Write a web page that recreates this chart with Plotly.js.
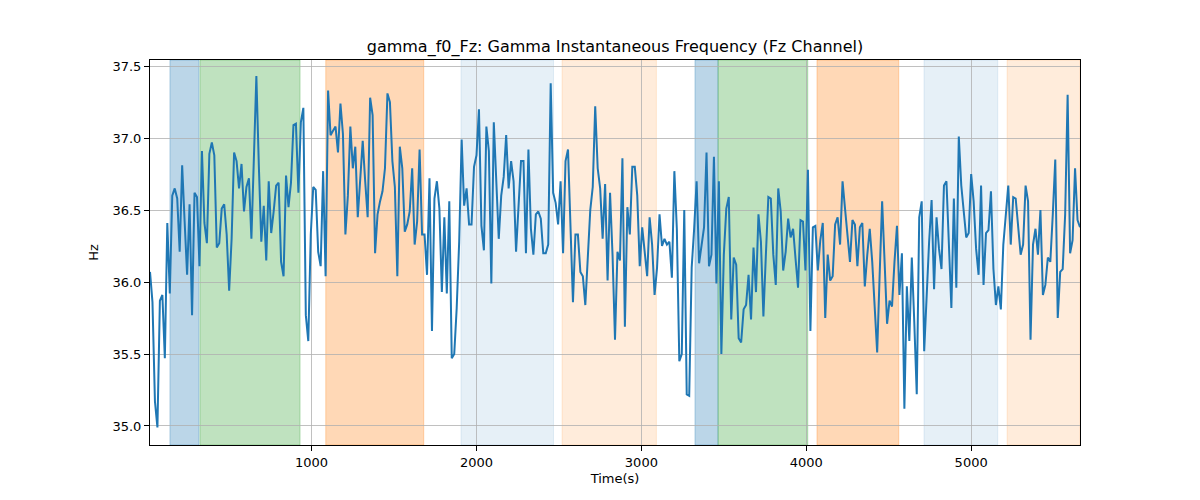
<!DOCTYPE html>
<html>
<head>
<meta charset="utf-8">
<script src="https://cdn.plot.ly/plotly-3.0.1.min.js"></script>
<style>
  html, body { margin: 0; padding: 0; background: #ffffff; }
  #gamma_graph { width: 1200px; height: 500px; }
</style>
</head>
<body>
<div id="gamma_graph"></div>
<script>
/* gamma instantaneous frequency of the Fz channel, with the stage bands behind it */

// sample times (s)
var timeSec = [
  20, 35, 50, 65, 80, 95, 110, 125, 140, 155,
  170, 185, 200, 215, 230, 245, 260, 275, 290, 305,
  320, 335, 350, 365, 380, 395, 410, 425, 440, 455,
  470, 485, 500, 515, 530, 545, 560, 575, 590, 605,
  620, 635, 650, 665, 680, 695, 710, 725, 740, 755,
  770, 785, 800, 815, 830, 845, 860, 875, 890, 905,
  920, 935, 950, 965, 980, 995, 1010, 1025, 1040, 1055,
  1070, 1085, 1100, 1115, 1130, 1145, 1160, 1175, 1190, 1205,
  1220, 1235, 1250, 1265, 1280, 1295, 1310, 1325, 1340, 1355,
  1370, 1385, 1400, 1415, 1430, 1445, 1460, 1475, 1490, 1505,
  1520, 1535, 1550, 1565, 1580, 1595, 1610, 1625, 1640, 1655,
  1670, 1685, 1700, 1715, 1730, 1745, 1760, 1775, 1790, 1805,
  1820, 1835, 1850, 1865, 1880, 1895, 1910, 1925, 1940, 1955,
  1970, 1985, 2000, 2015, 2030, 2045, 2060, 2075, 2090, 2105,
  2120, 2135, 2150, 2165, 2180, 2195, 2210, 2225, 2240, 2255,
  2270, 2285, 2300, 2315, 2330, 2345, 2360, 2375, 2390, 2405,
  2420, 2435, 2450, 2465, 2480, 2495, 2510, 2525, 2540, 2555,
  2570, 2585, 2600, 2615, 2630, 2645, 2660, 2675, 2690, 2705,
  2720, 2735, 2750, 2765, 2780, 2795, 2810, 2825, 2840, 2855,
  2870, 2885, 2900, 2915, 2930, 2945, 2960, 2975, 2990, 3005,
  3020, 3035, 3050, 3065, 3080, 3095, 3110, 3125, 3140, 3155,
  3170, 3185, 3200, 3215, 3230, 3245, 3260, 3275, 3290, 3305,
  3320, 3335, 3350, 3365, 3380, 3395, 3410, 3425, 3440, 3455,
  3470, 3485, 3500, 3515, 3530, 3545, 3560, 3575, 3590, 3605,
  3620, 3635, 3650, 3665, 3680, 3695, 3710, 3725, 3740, 3755,
  3770, 3785, 3800, 3815, 3830, 3845, 3860, 3875, 3890, 3905,
  3920, 3935, 3950, 3965, 3980, 3995, 4010, 4025, 4040, 4055,
  4070, 4085, 4100, 4115, 4130, 4145, 4160, 4175, 4190, 4205,
  4220, 4235, 4250, 4265, 4280, 4295, 4310, 4325, 4340, 4355,
  4370, 4385, 4400, 4415, 4430, 4445, 4460, 4475, 4490, 4505,
  4520, 4535, 4550, 4565, 4580, 4595, 4610, 4625, 4640, 4655,
  4670, 4685, 4700, 4715, 4730, 4745, 4760, 4775, 4790, 4805,
  4820, 4835, 4850, 4865, 4880, 4895, 4910, 4925, 4940, 4955,
  4970, 4985, 5000, 5015, 5030, 5045, 5060, 5075, 5090, 5105,
  5120, 5135, 5150, 5165, 5180, 5195, 5210, 5225, 5240, 5255,
  5270, 5285, 5300, 5315, 5330, 5345, 5360, 5375, 5390, 5405,
  5420, 5435, 5450, 5465, 5480, 5495, 5510, 5525, 5540, 5555,
  5570, 5585, 5600, 5615, 5630, 5645, 5660
];

// instantaneous frequency (Hz)
var freqHz = [
  36.07, 35.86, 35.17, 34.99, 35.87, 35.91, 35.47, 36.41, 35.92, 36.60,
  36.65, 36.58, 36.21, 36.81, 36.42, 36.05, 36.54, 35.77, 36.62, 36.59,
  36.11, 36.91, 36.41, 36.27, 36.89, 36.97, 36.88, 36.24, 36.27, 36.51,
  36.54, 36.33, 35.94, 36.30, 36.90, 36.84, 36.65, 36.82, 36.49, 36.66,
  36.72, 36.30, 36.86, 37.43, 36.81, 36.28, 36.53, 36.15,
  36.70, 36.34, 36.49, 36.67, 36.69, 36.14, 36.04, 36.74, 36.52, 36.69,
  37.09, 37.10, 36.62, 37.11, 37.21, 35.77, 35.59, 36.33, 36.66, 36.64,
  36.21, 36.11, 36.77, 36.04, 37.33, 37.02, 37.05, 37.08, 36.90, 37.24,
  37.03, 36.33, 36.60, 37.08, 36.79, 36.94, 36.45, 36.74, 36.98, 36.70,
  36.45, 37.28, 37.16, 36.20, 36.47, 36.56, 36.63, 36.79, 37.31, 37.25,
  36.84, 36.66, 36.04, 36.94, 36.79, 36.35, 36.40, 36.49, 36.79, 36.26,
  36.42, 36.92, 36.33, 36.33, 36.05, 36.72, 35.66, 36.58, 36.70, 36.51,
  35.93, 36.45, 35.92, 36.56, 35.47, 35.50, 35.82, 36.28, 36.99, 36.53,
  36.65, 36.40, 36.40, 36.80, 36.88, 37.20, 36.39, 36.22, 37.08, 36.91,
  35.99, 37.11, 36.65, 36.30, 36.60, 36.73, 37.02, 36.65,
  36.84, 36.70, 36.21, 36.49, 36.84, 36.84, 36.20, 36.92, 36.37, 36.19,
  36.47, 36.49, 36.44, 36.20, 36.20, 36.26, 37.38, 36.62, 36.55, 36.40,
  36.70, 36.20, 36.84, 36.92, 36.40, 35.86, 36.33, 36.33, 36.07, 36.04,
  35.84, 36.16, 36.50, 36.66, 37.22, 36.79, 36.65, 36.30, 36.68, 36.01,
  36.62, 36.19, 35.60, 36.21, 36.15, 36.86, 35.69, 36.52, 36.33,
  36.80, 36.80, 36.60, 36.11, 36.38, 36.22, 36.04, 36.45, 36.26, 35.91,
  36.10, 36.47, 36.25, 36.30, 36.26, 36.28, 36.03, 36.77, 36.37, 35.45,
  35.50, 36.50, 35.22, 35.21, 36.10, 36.37, 36.70, 36.13, 36.26, 36.38,
  36.90, 36.11, 36.19, 36.87, 35.99, 36.70, 35.50, 36.19, 36.51, 36.59,
  35.74, 36.17, 36.12, 35.61, 35.58, 35.81, 35.84, 36.05,
  35.74, 36.24, 35.93, 36.47, 36.28, 35.76, 36.19, 36.59, 36.58, 36.19,
  35.98, 36.65, 36.49, 36.08, 36.21, 36.44, 36.31, 36.37, 36.16, 35.96,
  36.43, 36.42, 36.08, 36.78, 35.66, 36.38, 36.39, 36.08, 36.29, 36.41,
  35.75, 36.19, 36.01, 36.04, 36.40, 36.45, 36.26, 36.70, 36.51, 36.30,
  36.14, 36.43, 36.40, 36.11, 36.38, 36.41, 35.97, 36.19, 36.37,
  36.14, 35.84, 35.51, 36.05, 36.56, 36.14, 35.71, 35.87, 35.83, 36.14,
  36.39, 35.91, 36.20, 35.12, 35.97, 35.59, 36.17, 35.72, 35.22, 36.45,
  36.56, 35.52, 35.96, 36.28, 36.57, 35.95, 36.45, 36.23, 36.09, 36.67,
  36.70, 36.19, 35.82, 36.58, 35.96, 37.01, 36.67, 36.49, 36.31, 36.34,
  36.75, 36.56, 36.23, 36.05, 36.67, 35.98, 36.34, 36.36,
  36.63, 36.09, 35.84, 35.97, 35.81, 36.26, 36.49, 36.67, 36.26, 36.59,
  36.58, 36.40, 36.19, 36.26, 36.67, 36.56, 35.60, 36.26, 36.37, 36.19,
  36.50, 35.91, 35.98, 36.17, 36.14, 36.47, 36.85, 35.75, 36.07, 36.09,
  36.47, 37.30, 36.20, 36.29, 36.79, 36.43, 36.38
];

// stage bands (s)
var bandStart = [141, 323, 1086, 1906, 2519, 3325, 3465, 4065, 4714, 5218];
var bandEnd   = [317, 930, 1680, 2467, 3091, 3465, 4009, 4561, 5161, 5660];
var bandKind  = ['blue', 'green', 'orange', 'paleblue', 'paleorange',
                 'blue', 'green', 'orange', 'paleblue', 'paleorange'];

var yTicks = [35.0, 35.5, 36.0, 36.5, 37.0, 37.5];
var xTicks = [1000, 2000, 3000, 4000, 5000];

var bandColour = {
  blue: 'rgba(31,119,180,0.3)',
  green: 'rgba(44,160,44,0.3)',
  orange: 'rgba(255,127,14,0.3)',
  paleblue: 'rgba(31,119,180,0.11)',
  paleorange: 'rgba(255,127,14,0.15)'
};

var shapes = [];
for (var k = 0; k < bandStart.length; k++) {
  shapes.push({
    type: 'rect', xref: 'x', yref: 'paper', layer: 'below',
    x0: bandStart[k], x1: bandEnd[k], y0: 0, y1: 1,
    fillcolor: bandColour[bandKind[k]],
    line: { color: bandColour[bandKind[k]], width: 1 }
  });
}

var freq_trace = {
  x: timeSec,
  y: freqHz,
  type: 'scatter',
  mode: 'lines',
  line: { color: '#1f77b4', width: 2 },
  hoverinfo: 'skip'
};

var layout = {
  width: 1200,
  height: 500,
  margin: { l: 150, r: 120, t: 60, b: 55 },
  paper_bgcolor: '#ffffff',
  plot_bgcolor: '#ffffff',
  showlegend: false,
  font: { family: 'DejaVu Sans, sans-serif', size: 13, color: '#000000' },
  title: {
    text: 'gamma_f0_Fz: Gamma Instantaneous Frequency (Fz Channel)',
    font: { family: 'DejaVu Sans, sans-serif', size: 16, color: '#000000' },
    x: 0.5, xref: 'paper', xanchor: 'center',
    y: 0.908, yref: 'container', yanchor: 'middle'
  },
  xaxis: {
    range: [20, 5660],
    tickvals: xTicks,
    ticktext: xTicks.map(String),
    ticks: 'outside', ticklen: 5, tickwidth: 1, tickcolor: '#000000',
    showgrid: true, gridcolor: '#b0b0b0', gridwidth: 0.8,
    zeroline: false,
    showline: true, linecolor: '#000000', linewidth: 1, mirror: true,
    title: { text: 'Time(s)', font: { size: 13 }, standoff: 5 }
  },
  yaxis: {
    range: [34.868, 37.542],
    tickvals: yTicks,
    ticktext: yTicks.map(function (v) { return v.toFixed(1); }),
    ticks: 'outside', ticklen: 5, tickwidth: 1, tickcolor: '#000000',
    showgrid: true, gridcolor: '#b0b0b0', gridwidth: 0.8,
    zeroline: false,
    showline: true, linecolor: '#000000', linewidth: 1, mirror: true,
    title: { text: 'Hz', font: { size: 13 }, standoff: 10 }
  },
  shapes: shapes
};

Plotly.newPlot('gamma_graph', [freq_trace], layout, { displayModeBar: false, staticPlot: true });
</script>
</body>
</html>
